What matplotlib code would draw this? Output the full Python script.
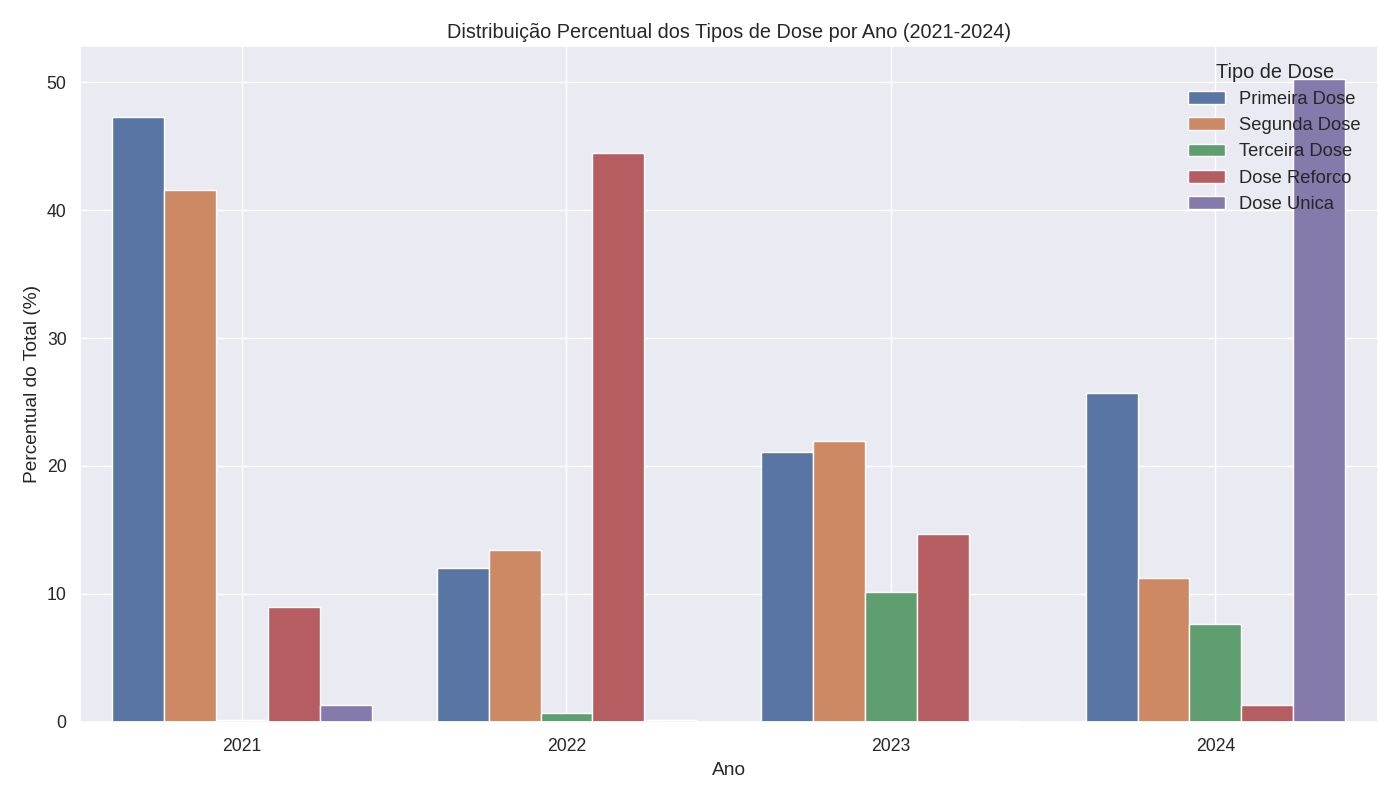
import matplotlib
matplotlib.use("Agg")
import matplotlib.pyplot as plt
import seaborn as sns
import pandas as pd

anos = ["2021", "2022", "2023", "2024"]
tipos = ["Primeira Dose", "Segunda Dose", "Terceira Dose", "Dose Reforco", "Dose Unica"]
primeira = [47.3, 12.0, 21.1, 25.7]
segunda = [41.6, 13.4, 21.95, 11.25]
terceira = [0.15, 0.65, 10.1, 7.6]
reforco = [8.95, 44.5, 14.7, 1.3]
unica = [1.3, 0.1, 0.03, 50.3]

valores = [primeira, segunda, terceira, reforco, unica]
linhas = []
for tipo, serie in zip(tipos, valores):
    for ano, v in zip(anos, serie):
        linhas.append({"Ano": ano, "Tipo de Dose": tipo, "Percentual": v})
df = pd.DataFrame(linhas)

sns.set_theme(style="darkgrid")
plt.rcParams['font.family'] = ['Liberation Sans', 'DejaVu Sans']
fig, ax = plt.subplots(figsize=(14, 8), dpi=100)
sns.barplot(data=df, x="Ano", y="Percentual", hue="Tipo de Dose", ax=ax)
ax.grid(True, axis="x")
ax.set_title("Distribuição Percentual dos Tipos de Dose por Ano (2021-2024)", fontsize=14.3)
ax.set_xlabel("Ano", fontsize=13.8, labelpad=5)
ax.set_ylabel("Percentual do Total (%)", fontsize=13.8, labelpad=4)
ax.tick_params(axis="x", labelsize=12.7, pad=6)
ax.tick_params(axis="y", labelsize=12.7, pad=3.5)
ax.legend(title="Tipo de Dose", loc="upper right", frameon=False, fontsize=13.2, title_fontsize=14.3)
fig.subplots_adjust(left=0.057, right=0.984, top=0.942, bottom=0.098)
plt.savefig("out.png")
